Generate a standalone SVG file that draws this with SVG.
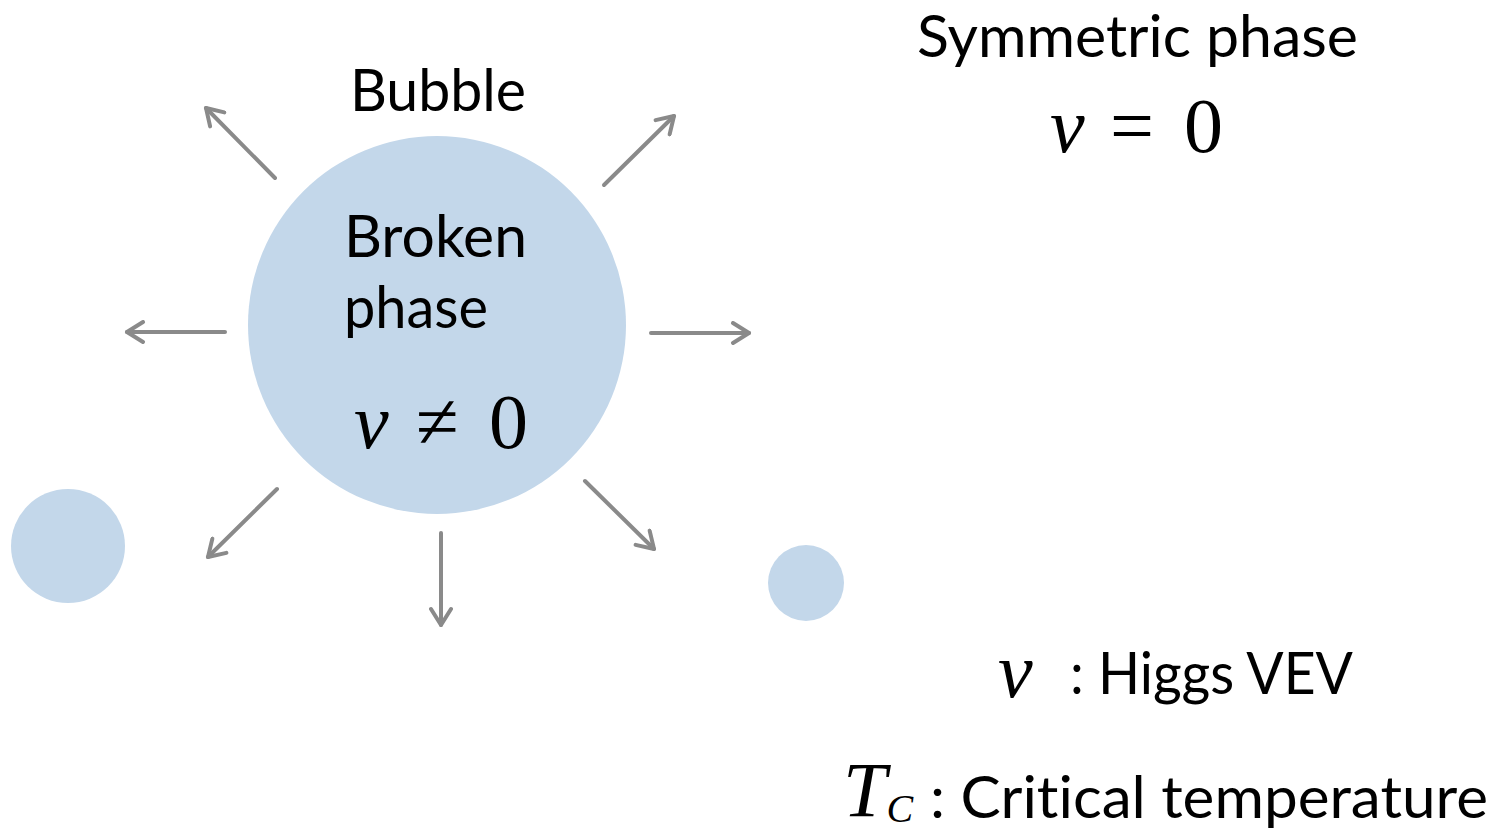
<svg xmlns="http://www.w3.org/2000/svg" width="1502" height="833" viewBox="0 0 1502 833">
<style>
.t{font-family:Lato,"Open Sans",sans-serif;font-size:59px;fill:#000;font-variant-ligatures:none}
.m{font-family:"Liberation Serif","DejaVu Serif",serif;font-size:78px;fill:#000}
.mi{font-style:italic}
.b{fill:#c3d7ea}
.a{stroke:#8a8a8a;stroke-width:4;fill:none;stroke-linecap:round}
</style>
<defs>
<marker id="ah" viewBox="0 0 12 12" refX="10" refY="6" markerWidth="6" markerHeight="6" orient="auto" markerUnits="strokeWidth">
<path d="M2,1 L10,6 L2,11" fill="none" stroke="#8a8a8a" stroke-width="2" stroke-linecap="round" stroke-linejoin="round"/>
</marker>
</defs>
<rect width="1502" height="833" fill="#fff"/>
<g id="bubble">
<circle class="b" cx="437" cy="325" r="189"/>
<text class="t" x="344" y="257" textLength="183" lengthAdjust="spacingAndGlyphs">Broken</text>
<text class="t" x="344" y="328" textLength="144" lengthAdjust="spacingAndGlyphs">phase</text>
<text class="m mi" x="354" y="448">v</text>
<text class="m" x="416" y="448" font-size="92">≠</text>
<text class="m" x="489" y="448">0</text>
</g>
<g id="bubble-label"><text class="t" x="350" y="111" textLength="176" lengthAdjust="spacingAndGlyphs">Bubble</text></g>
<g id="small-bubble-left"><circle class="b" cx="68" cy="546" r="57"/></g>
<g id="small-bubble-right"><circle class="b" cx="806" cy="583" r="38"/></g>
<g id="symmetric">
<text class="t" x="917" y="57" textLength="441" lengthAdjust="spacingAndGlyphs">Symmetric phase</text>
<text class="m mi" x="1050" y="152">v</text>
<text class="m" x="1110" y="152" font-size="92">=</text>
<text class="m" x="1184" y="152">0</text>
</g>
<g id="legend">
<text class="m mi" x="998" y="697">v</text>
<text class="t" x="1070" y="694" textLength="283" lengthAdjust="spacingAndGlyphs">: Higgs VEV</text>
<text class="m mi" x="843" y="816" font-size="66">T<tspan font-size="40" dy="6">C</tspan></text>
<text class="t" x="930" y="818" textLength="558" lengthAdjust="spacingAndGlyphs">: Critical temperature</text>
</g>
<g id="connectors">
<line class="a" marker-end="url(#ah)" x1="275" y1="178" x2="206" y2="108"/>
<line class="a" marker-end="url(#ah)" x1="604" y1="185" x2="674" y2="116"/>
<line class="a" marker-end="url(#ah)" x1="225" y1="332" x2="127" y2="332"/>
<line class="a" marker-end="url(#ah)" x1="651" y1="333" x2="749" y2="333"/>
<line class="a" marker-end="url(#ah)" x1="277" y1="489" x2="208" y2="557"/>
<line class="a" marker-end="url(#ah)" x1="441" y1="533" x2="441" y2="625"/>
<line class="a" marker-end="url(#ah)" x1="585" y1="481" x2="654" y2="549"/>
</g>
</svg>
